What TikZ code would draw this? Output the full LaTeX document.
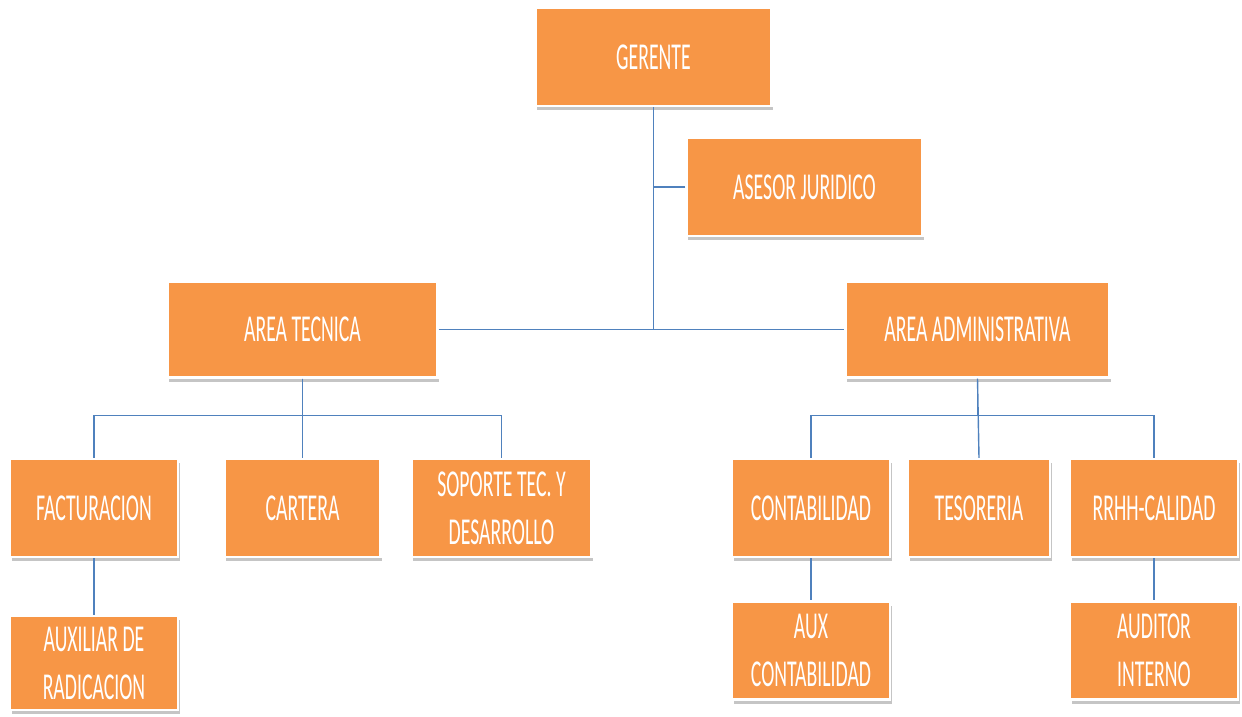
\documentclass[tikz,border=0pt]{standalone}
\usepackage{fontspec}
\setmainfont{Carlito}[FakeStretch=0.52]
\usetikzlibrary{shadows}
\definecolor{cargofill}{HTML}{F79646}
\definecolor{lineblue}{HTML}{4F81BD}

\begin{document}
\begin{tikzpicture}[x=0.5pt,y=-0.5pt,
  cargo/.style={rectangle,fill=cargofill,draw=white,line width=1.2pt,
    text=white,align=center,inner sep=0pt,
    font=\fontsize{19}{24}\selectfont,
    drop shadow={shadow xshift=0.8pt,shadow yshift=-2pt,fill=black!45,opacity=0.5}},
  enlace/.style={draw=lineblue,line width=0.7pt}]
  \useasboundingbox (0,0) rectangle (1242,717);

  \node[cargo,minimum width=118pt,minimum height=49pt] (gerente) at (653.5,57) {GERENTE};
  \node[cargo,minimum width=118pt,minimum height=49pt] (asesor) at (804.5,187) {ASESOR JURIDICO};
  \node[cargo,minimum width=135pt,minimum height=48pt] (tecnica) at (302.5,329.5) {AREA TECNICA};
  \node[cargo,minimum width=132pt,minimum height=48pt] (admin) at (977.5,329.5) {AREA ADMINISTRATIVA};

  \node[cargo,minimum width=84pt,minimum height=49pt] (facturacion) at (94,508) {FACTURACION};
  \node[cargo,minimum width=78pt,minimum height=49pt] (cartera) at (302.5,508) {CARTERA};
  \node[cargo,minimum width=90pt,minimum height=49pt] (soporte) at (501.5,508) {SOPORTE TEC. Y\\DESARROLLO};
  \node[cargo,minimum width=84pt,minimum height=47pt] (auxiliar) at (94,663) {AUXILIAR DE\\RADICACION};

  \node[cargo,minimum width=79pt,minimum height=49pt] (contabilidad) at (811,508) {CONTABILIDAD};
  \node[cargo,minimum width=71pt,minimum height=49pt] (tesoreria) at (979,508) {TESORERIA};
  \node[cargo,minimum width=84pt,minimum height=49pt] (rrhh) at (1154,508) {RRHH-CALIDAD};
  \node[cargo,minimum width=79pt,minimum height=49pt] (auxcont) at (811,650.5) {AUX\\CONTABILIDAD};
  \node[cargo,minimum width=84pt,minimum height=49pt] (auditor) at (1154,650.5) {AUDITOR\\INTERNO};

  \path[enlace]
  (gerente.south) edge (gerente |- tecnica)
  (asesor.west) edge (asesor.west -| gerente)
  (tecnica) edge (admin);
  \draw[enlace] (tecnica.south) -- ++(0,37) -| (facturacion.north);
  \draw[enlace] (tecnica.south) -- (cartera.north);
  \draw[enlace] (tecnica.south) -- ++(0,37) -| (soporte.north);
  \draw[enlace] (admin.south) -- ++(0,37) -| (contabilidad.north);
  \draw[enlace] (admin.south) -- (tesoreria.north);
  \draw[enlace] (admin.south) -- ++(0,37) -| (rrhh.north);
  \draw[enlace] (facturacion) -- (auxiliar);
  \draw[enlace] (contabilidad) -- (auxcont);
  \draw[enlace] (rrhh) -- (auditor);

\end{tikzpicture}
\end{document}
